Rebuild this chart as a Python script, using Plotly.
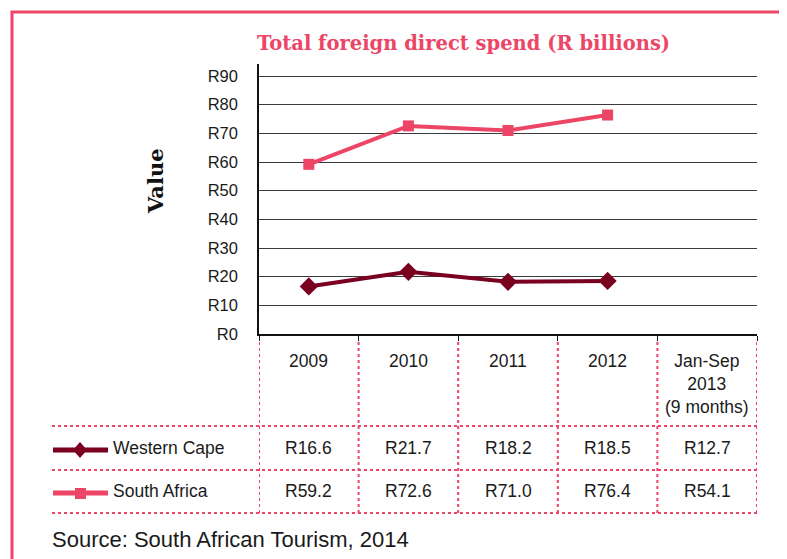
import plotly.graph_objects as go

categories = ["2009", "2010", "2011", "2012", "Jan-Sep 2013"]
header_labels = ["2009", "2010", "2011", "2012", "Jan-Sep<br>2013<br>(9 months)"]
western_cape = [16.6, 21.7, 18.2, 18.5, 12.7]
south_africa = [59.2, 72.6, 71.0, 76.4, 54.1]
plotted_n = 4  # the partial-year 2013 value is shown only in the table
y_ticks = [0, 10, 20, 30, 40, 50, 60, 70, 80, 90]
y_tick_labels = ["R%d" % v for v in y_ticks]

# page is offset by the 8px default body margin
OX, OY = 8, 8
W, H = 787 - OX, 559 - OY
L, R, T, B = 259, 757, 64, 334  # plot area in page pixels
PW, PH = R - L, B - T


def px(x):
    return (x - L) / PW


def py(y):
    return (B - y) / PH


PINK = "#ec4565"
MAROON = "#7a0020"
TXT = "#1a1a1a"
SANS = "Liberation Sans, Arial, sans-serif"
SERIF = "DejaVu Serif, serif"

fig = go.Figure()
fig.add_trace(go.Scatter(
    x=categories[:plotted_n], y=western_cape[:plotted_n], mode="lines+markers",
    name="Western Cape", line=dict(color=MAROON, width=4),
    marker=dict(symbol="diamond", size=14, color=MAROON), hoverinfo="skip"))
fig.add_trace(go.Scatter(
    x=categories[:plotted_n], y=south_africa[:plotted_n], mode="lines+markers",
    name="South Africa", line=dict(color=PINK, width=4),
    marker=dict(symbol="square", size=11, color=PINK), hoverinfo="skip"))

shapes = []
# outer border
shapes.append(dict(type="rect", xref="paper", yref="paper", x0=px(12), x1=px(800),
                   y0=py(600), y1=py(12), line=dict(color=PINK, width=3)))
# table horizontal dotted lines
for yy in [426, 470, 513]:
    shapes.append(dict(type="line", xref="paper", yref="paper", x0=px(52), x1=px(757),
                       y0=py(yy), y1=py(yy), line=dict(color=PINK, width=2, dash="dot")))
# table vertical dotted lines at category boundaries
for i in range(len(categories) + 1):
    xb = i - 0.5
    shapes.append(dict(type="line", xref="x", yref="paper", x0=xb, x1=xb,
                       y0=py(513), y1=py(339), line=dict(color=PINK, width=2, dash="dot")))
# legend keys
for yy, col in [(450, MAROON), (493, PINK)]:
    shapes.append(dict(type="line", xref="paper", yref="paper", x0=px(53), x1=px(108),
                       y0=py(yy), y1=py(yy), line=dict(color=col, width=5)))
shapes.append(dict(type="path", xref="paper", yref="paper",
                   path="M %f,%f L %f,%f L %f,%f L %f,%f Z" % (
                       px(73), py(450), px(80), py(442), px(87), py(450), px(80), py(458)),
                   fillcolor=MAROON, line=dict(color=MAROON, width=0)))
shapes.append(dict(type="rect", xref="paper", yref="paper", x0=px(75), x1=px(86),
                   y0=py(499), y1=py(488), fillcolor=PINK, line=dict(color=PINK, width=0)))

ann = []
ann.append(dict(text="<b>Total foreign direct spend (R billions)</b>", xref="paper", yref="paper",
                x=px(463), y=py(43), showarrow=False, xanchor="center", yanchor="middle",
                font=dict(family=SERIF, size=19.5, color=PINK)))
ann.append(dict(text="<b>Value</b>", xref="paper", yref="paper", x=px(155), y=py(181),
                showarrow=False, textangle=-90, xanchor="center", yanchor="middle",
                font=dict(family=SERIF, size=21, color="#111111")))
for i, h in enumerate(header_labels):
    ann.append(dict(text=h, xref="x", yref="paper", x=i, y=py(349), showarrow=False,
                    xanchor="center", yanchor="top",
                    font=dict(family=SANS, size=17.5, color=TXT)))
for i, v in enumerate(western_cape):
    ann.append(dict(text="R%.1f" % v, xref="x", yref="paper", x=i, y=py(448), showarrow=False,
                    xanchor="center", yanchor="middle", font=dict(family=SANS, size=17.5, color=TXT)))
for i, v in enumerate(south_africa):
    ann.append(dict(text="R%.1f" % v, xref="x", yref="paper", x=i, y=py(491), showarrow=False,
                    xanchor="center", yanchor="middle", font=dict(family=SANS, size=17.5, color=TXT)))
ann.append(dict(text="Western Cape", xref="paper", yref="paper", x=px(111), y=py(448),
                showarrow=False, xanchor="left", yanchor="middle",
                font=dict(family=SANS, size=17.5, color=TXT)))
ann.append(dict(text="South Africa", xref="paper", yref="paper", x=px(111), y=py(491),
                showarrow=False, xanchor="left", yanchor="middle",
                font=dict(family=SANS, size=17.5, color=TXT)))
ann.append(dict(text="Source: South African Tourism, 2014", xref="paper", yref="paper",
                x=px(50), y=py(539), showarrow=False, xanchor="left", yanchor="middle",
                font=dict(family=SANS, size=22, color=TXT)))

fig.update_layout(
    width=W, height=H,
    margin=dict(l=L - OX, r=W - (R - OX), t=T - OY, b=H - (B - OY), pad=0),
    paper_bgcolor="white", plot_bgcolor="white", showlegend=False,
    shapes=shapes, annotations=ann,
    xaxis=dict(type="category", categoryorder="array", categoryarray=categories,
               range=[-0.5, len(categories) - 0.5], showticklabels=False,
               showgrid=False, zeroline=False, showline=True, linecolor="#111111", linewidth=2,
               ticks="outside", tickson="boundaries", ticklen=5, tickcolor="#111111", tickwidth=1),
    yaxis=dict(range=[0, 94.2], tickvals=y_ticks, ticktext=y_tick_labels,
               showgrid=True, gridcolor="#3a3a3a", gridwidth=1, zeroline=False,
               showline=True, linecolor="#111111", linewidth=1.5, ticks="",
               ticklabelstandoff=16, tickfont=dict(family=SANS, size=16.5, color=TXT)),
)

fig.write_html("out.html")
